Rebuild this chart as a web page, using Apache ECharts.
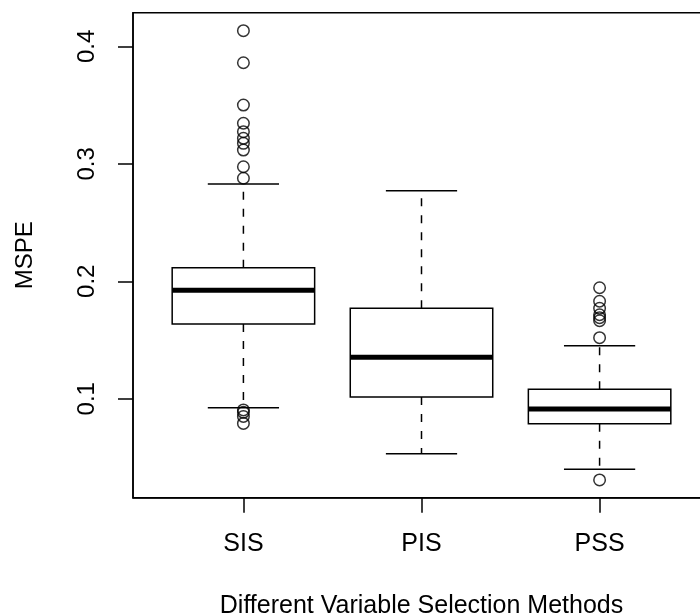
<!DOCTYPE html>
<html>
<head>
<meta charset="utf-8">
<script src="https://cdn.jsdelivr.net/npm/echarts@6/dist/echarts.min.js"></script>
<style>
	html, body { margin: 0; padding: 0; background: #fff; }
	#chart { width: 700px; height: 616px; }
</style>
</head>
<body>
<div id="chart"></div>
<script>
// box statistics, one entry per method
var categories = [ 'SIS', 'PIS', 'PSS' ];
var lowerWhisker = [ 0.0924, 0.0533, 0.0400 ];
var lowerHinge = [ 0.1637, 0.1015, 0.0788 ];
var medians = [ 0.1923, 0.1353, 0.0913 ];
var upperHinge = [ 0.2116, 0.1770, 0.1081 ];
var upperWhisker = [ 0.2828, 0.2771, 0.1452 ];
// outliers
var outliersSIS = [ 0.4133, 0.3860, 0.3500, 0.3345, 0.3273, 0.3217, 0.3174,
		0.3117, 0.2975, 0.2877, 0.0905, 0.0885, 0.0850, 0.0790 ];
var outliersPIS = [];
var outliersPSS = [ 0.1945, 0.1830, 0.1770, 0.1715, 0.1690, 0.1665, 0.1520,
		0.0309 ];
var yTicks = [ 0.1, 0.2, 0.3, 0.4 ];

var font = 'Liberation Sans, Arial, Helvetica, sans-serif';

var boxData = [];
for (var i = 0; i < categories.length; i++) {
	boxData.push([ i + 1, lowerWhisker[i], lowerHinge[i], medians[i],
			upperHinge[i], upperWhisker[i] ]);
}
var outlierData = [];
var allOut = [ outliersSIS, outliersPIS, outliersPSS ];
for (var k = 0; k < allOut.length; k++) {
	for (var j = 0; j < allOut[k].length; j++) {
		outlierData.push([ k + 1, allOut[k][j] ]);
	}
}

function renderBox(params, api) {
	var x = api.value(0);
	var lw = api.coord([ x, api.value(1) ]);
	var q1 = api.coord([ x, api.value(2) ]);
	var md = api.coord([ x, api.value(3) ]);
	var q3 = api.coord([ x, api.value(4) ]);
	var uw = api.coord([ x, api.value(5) ]);
	var half = api.size([ 0.4, 0 ])[0];
	var capHalf = api.size([ 0.2, 0 ])[0];
	var cx = q1[0];
	var solid = { stroke: '#000', lineWidth: 1.5 };
	var dashed = { stroke: '#000', lineWidth: 1.5, lineDash: [ 8, 9 ] };
	return {
		type : 'group',
		children : [ {
			type : 'line',
			shape : { x1: cx, y1: q3[1], x2: cx, y2: uw[1] },
			style : dashed
		}, {
			type : 'line',
			shape : { x1: cx, y1: q1[1], x2: cx, y2: lw[1] },
			style : dashed
		}, {
			type : 'rect',
			shape : { x: cx - half, y: q3[1], width: half * 2, height: q1[1] - q3[1] },
			style : { fill: '#fff', stroke: '#000', lineWidth: 1.5 }
		}, {
			type : 'line',
			shape : { x1: cx - half, y1: md[1], x2: cx + half, y2: md[1] },
			style : { stroke: '#000', lineWidth: 5 }
		}, {
			type : 'line',
			shape : { x1: cx - capHalf, y1: uw[1], x2: cx + capHalf, y2: uw[1] },
			style : solid
		}, {
			type : 'line',
			shape : { x1: cx - capHalf, y1: lw[1], x2: cx + capHalf, y2: lw[1] },
			style : solid
		} ]
	};
}

var myChart = echarts.init(document.getElementById('chart'));
var option = {
	animation : false,
	backgroundColor : '#fff',
	grid : {
		left : 133,
		top : 12.7,
		width : 577,
		height : 485,
		containLabel : false,
		outerBoundsMode : 'none',
		show : true,
		borderColor : '#000',
		borderWidth : 1.5,
		backgroundColor : 'transparent'
	},
	xAxis : {
		type : 'value',
		min : 0.38,
		max : 3.62,
		name : 'Different Variable Selection Methods',
		nameLocation : 'middle',
		nameGap : 96,
		nameTextStyle : { color: '#000', fontSize: 25, fontFamily: font },
		axisLine : { show: true, lineStyle: { color: '#000', width: 1.5 } },
		axisTick : {
			show : true,
			length : 15,
			customValues : [ 1, 2, 3 ],
			lineStyle : { color: '#000', width: 1.5 }
		},
		axisLabel : {
			customValues : [ 1, 2, 3 ],
			margin : 34,
			color : '#000',
			fontSize : 25,
			fontFamily : font,
			formatter : function(v) {
				return categories[Math.round(v) - 1];
			}
		},
		splitLine : { show: false }
	},
	yAxis : {
		type : 'value',
		min : 0.0158,
		max : 0.4286,
		name : 'MSPE',
		nameLocation : 'middle',
		nameGap : 96,
		nameTextStyle : { color: '#000', fontSize: 24, fontFamily: font },
		axisLine : { show: true, lineStyle: { color: '#000', width: 1.5 } },
		axisTick : {
			show : true,
			length : 15,
			customValues : yTicks,
			lineStyle : { color: '#000', width: 1.5 }
		},
		axisLabel : {
			customValues : yTicks,
			rotate : 90,
			margin : 34,
			color : '#000',
			fontSize : 24,
			fontFamily : font,
			formatter : function(v) {
				return v.toFixed(1);
			}
		},
		splitLine : { show: false }
	},
	series : [ {
		type : 'custom',
		renderItem : renderBox,
		data : boxData,
		encode : { x: 0, y: [ 1, 2, 3, 4, 5 ] },
		z : 2
	}, {
		type : 'scatter',
		data : outlierData,
		symbol : 'circle',
		symbolSize : 11.5,
		itemStyle : { color: 'transparent', borderColor: '#000', borderWidth: 1.5 },
		z : 3
	} ]
};
myChart.setOption(option);
</script>
</body>
</html>
